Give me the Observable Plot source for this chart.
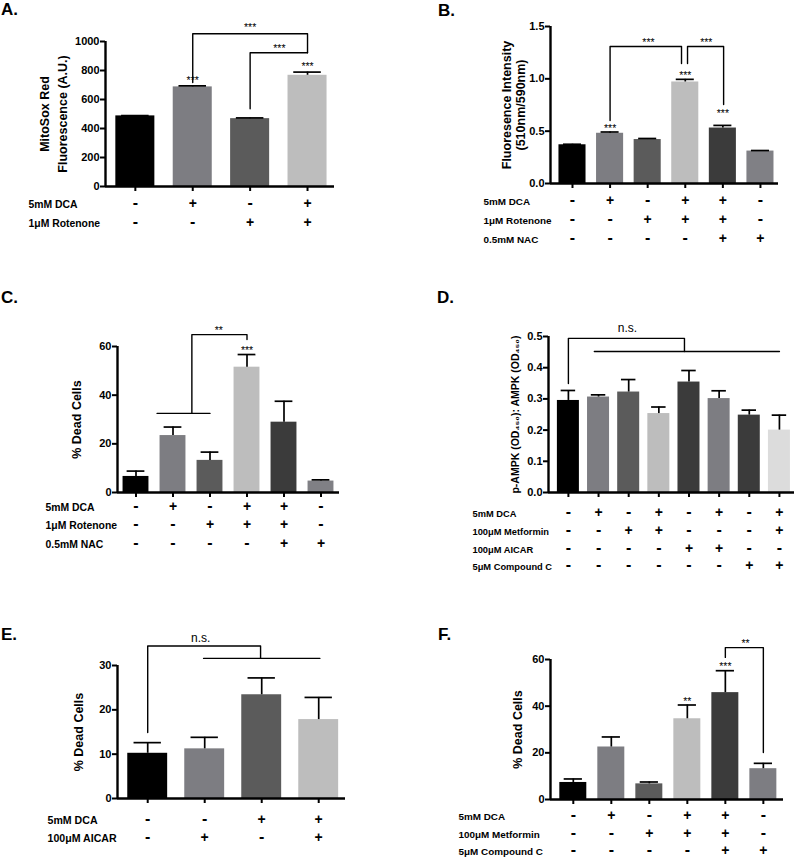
<!DOCTYPE html>
<html><head><meta charset="utf-8">
<script src="https://cdn.jsdelivr.net/npm/d3@7"></script>
<script src="https://cdn.jsdelivr.net/npm/@observablehq/plot@0.6"></script>
<style>
body{margin:0;background:#fff;}
#root{position:relative;width:796px;height:859px;overflow:hidden;font-family:"Liberation Sans",Arial,sans-serif;}
.panel{position:absolute;}
.letter{position:absolute;font-weight:bold;font-size:17px;line-height:17px;color:#000;}
</style></head><body><div id="root"></div>
<script>
// ---------- DATA ----------
// Panel A
const aValues = [487, 687, 468, 767];
const aErrors = [2, 7, 5, 22];
const aColors = ["#000000", "#7d7d82", "#5b5b5b", "#bdbdbd"];
const aTicks = [0, 200, 400, 600, 800, 1000];
const aDCA = ["-", "+", "-", "+"];
const aRotenone = ["-", "-", "+", "+"];
const aStars = [[1, 731, "***"], [3, 828, "***"], [2, 1097, "***"], [2.51, 952, "***"]];
const aBrackets = [
  [[1, 717], [1, 1053], [3, 1053], [3, 922]],
  [[2, 536], [2, 922], [3, 922]]
];
// Panel B
const bValues = [0.37, 0.48, 0.42, 0.97, 0.53, 0.31];
const bErrors = [0.005, 0.012, 0.01, 0.025, 0.025, 0.005];
const bColors = ["#000000", "#7d7d82", "#5b5b5b", "#bdbdbd", "#3b3b3b", "#808085"];
const bTicks = [0, 0.5, 1.0, 1.5];
const bDCA = ["-", "+", "-", "+", "+", "-"];
const bRotenone = ["-", "-", "+", "+", "+", "-"];
const bNAC = ["-", "-", "-", "-", "+", "+"];
const bStars = [[1, 0.525, "***"], [3, 1.031, "***"], [4, 0.669, "***"], [2.02, 1.347, "***"], [3.56, 1.347, "***"]];
const bBrackets = [
  [[1, 0.602], [1, 1.309], [2.9, 1.309], [2.9, 1.146]],
  [[3.06, 1.146], [3.06, 1.309], [4.02, 1.309], [4.02, 0.755]]
];
// Panel C
const cValues = [6.6, 23.4, 13.2, 51.5, 28.9, 4.7];
const cErrors = [2.2, 3.5, 3.4, 5.2, 8.6, 0.5];
const cColors = ["#000000", "#7d7d82", "#5b5b5b", "#bdbdbd", "#3b3b3b", "#808085"];
const cTicks = [0, 20, 40, 60];
const cDCA = ["-", "+", "-", "+", "+", "-"];
const cRotenone = ["-", "-", "+", "+", "+", "-"];
const cNAC = ["-", "-", "-", "-", "+", "+"];
const cStars = [[3, 58.4, "***"], [2.24, 66.6, "**"]];
const cBrackets = [
  [[1.51, 32.5], [1.51, 64.9], [3, 64.9], [3, 62.9]],
  [[0.57, 32.5], [2.0, 32.5]]
];
// Panel D
const dValues = [0.295, 0.306, 0.322, 0.253, 0.354, 0.301, 0.248, 0.200];
const dErrors = [0.032, 0.007, 0.040, 0.021, 0.037, 0.025, 0.016, 0.048];
const dColors = ["#000000", "#7d7d82", "#5b5b5b", "#bdbdbd", "#3b3b3b", "#7d7d82", "#3b3b3b", "#dcdcdc"];
const dTicks = [0, 0.1, 0.2, 0.3, 0.4, 0.5];
const dDCA = ["-", "+", "-", "+", "-", "+", "-", "+"];
const dMetformin = ["-", "-", "+", "+", "-", "-", "-", "+"];
const dAICAR = ["-", "-", "-", "-", "+", "+", "-", "-"];
const dCompoundC = ["-", "-", "-", "-", "-", "-", "+", "+"];
const dStars = [[1.96, 0.526, "n.s."]];
const dBrackets = [
  [[0, 0.349], [0, 0.494], [3.85, 0.494], [3.85, 0.452]],
  [[0.86, 0.452], [7.0, 0.452]]
];
// Panel E
const eValues = [10.2, 11.2, 23.4, 17.8];
const eErrors = [2.4, 2.6, 3.8, 5.0];
const eColors = ["#000000", "#7d7d82", "#5b5b5b", "#bdbdbd"];
const eTicks = [0, 10, 20, 30];
const eDCA = ["-", "-", "+", "+"];
const eAICAR = ["-", "+", "-", "+"];
const eStars = [[0.93, 36.2, "n.s."]];
const eBrackets = [
  [[0, 14.9], [0, 34.4], [1.98, 34.4], [1.98, 31.6]],
  [[0.98, 31.6], [3.02, 31.6]]
];
// Panel F
const fValues = [7.3, 22.5, 6.7, 34.6, 45.8, 13.2];
const fErrors = [1.5, 4.3, 0.8, 5.9, 9.4, 2.3];
const fColors = ["#000000", "#7d7d82", "#5b5b5b", "#bdbdbd", "#3b3b3b", "#7d7d82"];
const fTicks = [0, 20, 40, 60];
const fDCA = ["-", "+", "-", "+", "+", "-"];
const fMetformin = ["-", "-", "+", "+", "+", "-"];
const fCompoundC = ["-", "-", "-", "-", "+", "+"];
const fStars = [[3, 42.0, "**"], [4, 57.0, "***"], [4.53, 66.9, "**"]];
const fBrackets = [
  [[4.0, 60.9], [4.0, 65.1], [5.0, 65.1], [5.0, 20.1]]
];

// ---------- DRAWING ----------
const root = document.getElementById("root");
const FONT = '"Liberation Sans", Arial, sans-serif';

function makePanel(p) {
  const n = p.values.length;
  const bars = p.values.map((v, i) => ({i, v, e: p.errors[i], c: p.colors[i]}));
  const half = p.half ?? 0.35, cap = p.cap ?? 0.24;
  const frameW = p.box[2] - p.m[0] - p.m[1];
  const frameH = p.box[3] - p.m[2] - p.m[3];
  const ux = (p.xdom[1] - p.xdom[0]) / frameW;   // data units per pixel (x)
  const uy = (p.ydom[1] - p.ydom[0]) / frameH;   // data units per pixel (y)
  const tick = 5;
  const marks = [
    Plot.rectY(bars, {x1: d => d.i - half, x2: d => d.i + half, y1: 0, y2: "v", fill: "c"}),
    Plot.ruleX(bars, {x: "i", y1: "v", y2: d => d.v + d.e, stroke: "#000", strokeWidth: 1.7}),
    Plot.ruleY(bars, {y: d => d.v + d.e, x1: d => d.i - cap, x2: d => d.i + cap, stroke: "#000", strokeWidth: 1.7}),
    Plot.ruleY([0], {stroke: "#000", strokeWidth: 2.4}),
    Plot.ruleX([p.xdom[0]], {x: d => d, y1: p.ydom[0], y2: p.ydom[1], stroke: "#000", strokeWidth: 2.4}),
    // tick marks drawn through the scales
    Plot.ruleX(d3.range(n), {x: d => d, y1: 0, y2: -tick * uy, stroke: "#000", strokeWidth: 2}),
    Plot.ruleY(p.ticks, {y: d => d, x1: p.xdom[0], x2: p.xdom[0] - tick * ux, stroke: "#000", strokeWidth: 2}),
    Plot.axisY({ticks: p.ticks, tickFormat: p.fmt, tickSize: 0, tickPadding: 6, fontWeight: "bold", fontSize: 11, label: null}),
    Plot.axisX({ticks: [], label: null}),
    ...p.brackets.map(b => Plot.line(b, {x: d => d[0], y: d => d[1], stroke: "#000", strokeWidth: 1.4})),
    Plot.text(p.stars, {x: d => d[0], y: d => d[1], text: d => d[2], fontSize: p.starSize ?? 10.5, fill: "#000"}),
    Plot.text([p.ylabel], {frameAnchor: "left", rotate: -90, dx: p.ylabelDx, fontWeight: "bold", fontSize: p.ylabelSize ?? 12.5, lineHeight: p.lh ?? 1, textAnchor: "middle", fill: "#000"})
  ];
  p.rows.forEach(([name, signs], k) => {
    marks.push(Plot.text(signs.map((s, i) => ({i, s})), {x: "i", text: "s", frameAnchor: "bottom", dy: p.rowDy[k], fontWeight: "bold", fontSize: d => d.s === "-" ? 16 : 14, fill: "#000"}));
    marks.push(Plot.text([name], {frameAnchor: "bottom-left", textAnchor: "start", dx: p.labelDx, dy: p.rowDy[k], fontWeight: "bold", fontSize: p.rowSize, fill: "#000"}));
  });
  const svg = Plot.plot({
    width: p.box[2], height: p.box[3],
    marginLeft: p.m[0], marginRight: p.m[1], marginTop: p.m[2], marginBottom: p.m[3],
    x: {type: "linear", domain: p.xdom},
    y: {domain: p.ydom},
    color: {type: "identity"},
    style: {fontFamily: FONT, overflow: "visible", background: "transparent", color: "#000"},
    marks
  });
  const div = document.createElement("div");
  div.className = "panel";
  div.style.left = p.box[0] + "px";
  div.style.top = p.box[1] + "px";
  div.appendChild(svg);
  root.appendChild(div);
  const L = document.createElement("div");
  L.className = "letter";
  L.textContent = p.letter;
  L.style.left = p.letterPos[0] + "px";
  L.style.top = p.letterPos[1] + "px";
  root.appendChild(L);
}

makePanel({letter: "A.", letterPos: [1, 1], box: [0, 0, 400, 280], m: [105, 66, 41, 94], xdom: [-0.52, 3.47], ydom: [0, 1000],
  values: aValues, errors: aErrors, colors: aColors, ticks: aTicks, fmt: d3.format("d"), half: 0.34,
  stars: aStars, brackets: aBrackets, ylabel: "MitoSox Red\nFluorescence (A.U.)", ylabelDx: -53, lh: 1.4,
  rows: [["5mM DCA", aDCA], ["1\u03bcM Rotenone", aRotenone]], rowDy: [21, 40], labelDx: -77, rowSize: 10.4});

makePanel({letter: "B.", letterPos: [438, 2], box: [400, 0, 396, 280], m: [150, 18, 26, 97], xdom: [-0.585, 5.48], ydom: [0, 1.5],
  values: bValues, errors: bErrors, colors: bColors, ticks: bTicks, fmt: d3.format(".1f"), half: 0.36,
  stars: bStars, brackets: bBrackets, ylabel: "Fluoresence Intensity\n(510nm/590nm)", ylabelDx: -37, lh: 1.15,
  rows: [["5mM DCA", bDCA], ["1\u03bcM Rotenone", bRotenone], ["0.5mM NAC", bNAC]], rowDy: [21, 40, 59], labelDx: -67, rowSize: 9.9});

makePanel({letter: "C.", letterPos: [1, 289], box: [0, 280, 400, 290], m: [117, 61, 66, 78], xdom: [-0.5, 5.5], ydom: [0, 60],
  values: cValues, errors: cErrors, colors: cColors, ticks: cTicks, fmt: d3.format("d"), half: 0.35,
  stars: cStars, brackets: cBrackets, ylabel: "% Dead Cells", ylabelDx: -41,
  rows: [["5mM DCA", cDCA], ["1\u03bcM Rotenone", cRotenone], ["0.5mM NAC", cNAC]], rowDy: [18, 36, 55], labelDx: -72, rowSize: 10.4});

makePanel({letter: "D.", letterPos: [437, 289], box: [400, 280, 396, 290], m: [148, 2, 56, 78], xdom: [-0.66, 7.5], ydom: [0, 0.5],
  values: dValues, errors: dErrors, colors: dColors, ticks: dTicks, fmt: d3.format(".1f"), half: 0.365,
  stars: dStars, starSize: 12, brackets: dBrackets, ylabel: "p-AMPK (OD\u2084\u2085\u2080): AMPK (OD\u2084\u2085\u2080)", ylabelDx: -33, ylabelSize: 10.5,
  rows: [["5mM DCA", dDCA], ["100\u03bcM Metformin", dMetformin], ["100\u03bcM AICAR", dAICAR], ["5\u03bcM Compound C", dCompoundC]], rowDy: [24, 42, 60, 77], labelDx: -76, rowSize: 9.3});

makePanel({letter: "E.", letterPos: [1, 626], box: [0, 570, 400, 289], m: [117, 55, 95, 61], xdom: [-0.53, 3.47], ydom: [0, 30],
  values: eValues, errors: eErrors, colors: eColors, ticks: eTicks, fmt: d3.format("d"), half: 0.35,
  stars: eStars, starSize: 12, brackets: eBrackets, ylabel: "% Dead Cells", ylabelDx: -39,
  rows: [["5mM DCA", eDCA], ["100\u03bcM AICAR", eAICAR]], rowDy: [25, 43], labelDx: -70, rowSize: 10.6});

makePanel({letter: "F.", letterPos: [438, 626], box: [400, 570, 396, 289], m: [150, 13, 89, 60], xdom: [-0.6, 5.53], ydom: [0, 60],
  values: fValues, errors: fErrors, colors: fColors, ticks: fTicks, fmt: d3.format("d"), half: 0.355,
  stars: fStars, brackets: fBrackets, ylabel: "% Dead Cells", ylabelDx: -33,
  rows: [["5mM DCA", fDCA], ["100\u03bcM Metformin", fMetformin], ["5\u03bcM Compound C", fCompoundC]], rowDy: [20, 38, 55], labelDx: -92, rowSize: 9.9});
</script>
</body></html>
